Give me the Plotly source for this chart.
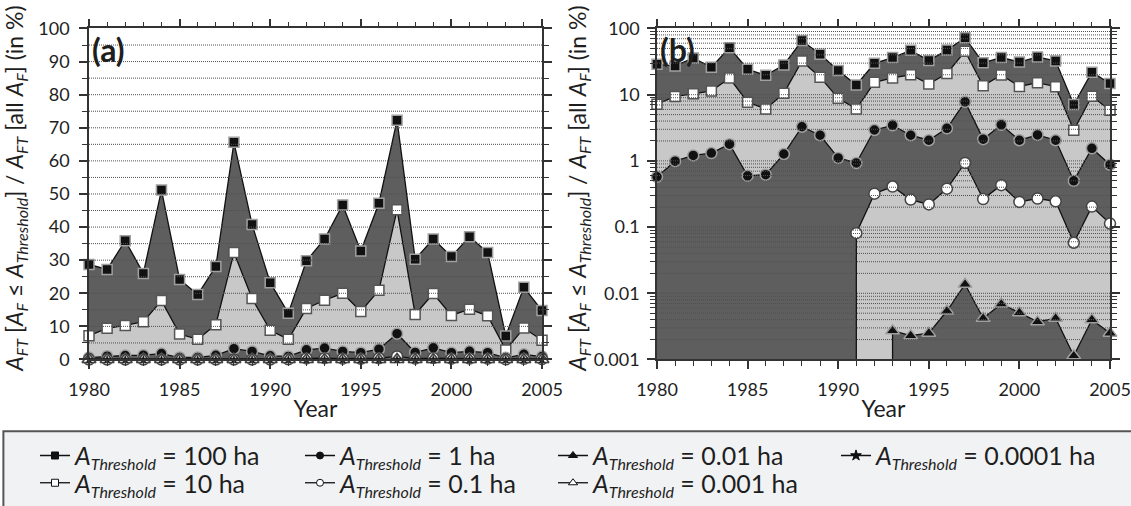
import plotly.graph_objects as go

years = list(range(1980, 2006))

# Share of fire-affected area (in %) for each threshold
thr_100 = [28.7, 27.2, 35.9, 26.0, 51.2, 24.2, 19.6, 28.1, 65.6, 40.8, 23.2, 14.0, 29.8,
           36.4, 46.7, 32.8, 47.2, 72.3, 30.3, 36.4, 31.1, 37.1, 32.3, 7.1, 21.8, 14.8]
thr_10 = [7.2, 9.4, 10.3, 11.4, 17.8, 7.7, 6.1, 10.5, 32.3, 18.4, 8.8, 6.1, 15.4,
          17.9, 20.0, 14.5, 20.9, 45.2, 13.6, 19.9, 13.3, 15.2, 13.2, 2.9, 9.5, 5.8]
thr_1 = [0.575, 0.99, 1.21, 1.31, 1.79, 0.594, 0.62, 1.27, 3.28, 2.44, 1.11, 0.93, 2.93,
         3.44, 2.44, 2.05, 3.1, 7.8, 2.13, 3.51, 2.05, 2.47, 2.05, 0.50, 1.55, 0.875]
thr_01 = [0, 0, 0, 0, 0, 0, 0, 0, 0, 0, 0, 0.081, 0.32,
          0.41, 0.26, 0.22, 0.38, 0.93, 0.265, 0.43, 0.24, 0.27, 0.245, 0.058, 0.204, 0.113]
thr_001 = [0, 0, 0, 0, 0, 0, 0, 0, 0, 0, 0, 0, 0,
           0.00272, 0.00229, 0.0025, 0.0054, 0.0137, 0.0042, 0.0069, 0.0051, 0.0037, 0.0042,
           0.00114, 0.0040, 0.0025]
thr_0001 = [0, 0, 0, 0, 0, 0, 0, 0, 0, 0, 0, 0, 0,
            0, 0, 0, 0, 0, 0, 0, 0, 0, 0, 0, 0, 0]
thr_00001 = [0, 0, 0, 0, 0, 0, 0, 0, 0, 0, 0, 0, 0,
             0, 0, 0, 0, 0, 0, 0, 0, 0, 0, 0, 0, 0]

series_labels = ["100 ha", "10 ha", "1 ha", "0.1 ha", "0.01 ha", "0.001 ha", "0.0001 ha"]
series_values = [thr_100, thr_10, thr_1, thr_01, thr_001, thr_0001, thr_00001]

lin_ticks = [0, 10, 20, 30, 40, 50, 60, 70, 80, 90, 100]
log_ticks = [0.001, 0.01, 0.1, 1, 10, 100]
log_ticktext = ["0.001", "0.01", "0.1", "1", "10", "100"]
year_ticks = [1980, 1985, 1990, 1995, 2000, 2005]

DARK = "#5e5e5e"
LIGHT = "#c8c8c8"
FONT = "Lato"
INK = "#1e1e1e"

fill_colors = [DARK, LIGHT, DARK, LIGHT, DARK, LIGHT, DARK]
symbols = ["square", "square", "circle", "circle", "triangle-up", "triangle-up", "star"]
face = ["#111111", "#ffffff", "#111111", "#ffffff", "#111111", "#ffffff", "#111111"]
edge = ["#a0a0a0", "#555555", "#a0a0a0", "#444444", "#a0a0a0", "#444444", "#111111"]
sizes = [10, 10, 11, 11, 12, 12, 6]
legend_sizes = [7, 7, 7, 7, 8, 8, 8]

# key layout: one legend box per entry (column x of the symbol, row centre y), in pixels
legend_ids = ["legend", "legend2", "legend3", "legend4", "legend5", "legend6", "legend7"]
legend_px = [(35, 464), (35, 492), (300, 464), (300, 492), (553, 464), (553, 492),
             (836, 464)]


def label(text):
    return ("<i>A</i><sub><span style='font-size:16px'><i>Threshold</i></span></sub> = "
            + text)


fig = go.Figure()

for panel, (xa, ya) in enumerate([("x", "y"), ("x2", "y2")]):
    # stacked filled areas (drawn from the top series downwards)
    for vals, fc in zip(series_values, fill_colors):
        fig.add_trace(go.Scatter(x=years, y=vals, xaxis=xa, yaxis=ya, mode="none",
                                 fill="tozeroy", fillcolor=fc, showlegend=False,
                                 hoverinfo="skip"))
    # lines + markers
    for i, vals in enumerate(series_values):
        fig.add_trace(go.Scatter(
            x=years, y=vals, xaxis=xa, yaxis=ya, mode="lines+markers",
            line=dict(color="#111111", width=1.3),
            marker=dict(symbol=symbols[i], color=face[i], size=sizes[i],
                        line=dict(color=edge[i], width=1.5 if i < 6 else 0.5)),
            name=label(series_labels[i]), showlegend=False, cliponaxis=False))

# legend entries (small symbols as in the reference key)
for i in range(len(series_labels)):
    fig.add_trace(go.Scatter(
        x=[None], y=[None], mode="lines+markers",
        line=dict(color="#111111", width=1.3),
        marker=dict(symbol=symbols[i], color=face[i], size=legend_sizes[i],
                    line=dict(color="#111111", width=1)),
        name=label(series_labels[i]), legend=legend_ids[i], showlegend=True))

# dotted grid lines drawn above everything
grid_line = dict(color="#505050", width=1, dash="1px,1px")
shapes = []
for v in range(5, 100, 5):
    shapes.append(dict(type="line", xref="x domain", yref="y", x0=0, x1=1, y0=v, y1=v,
                       layer="above", line=grid_line))
log_minor = []
for d in [0.001, 0.01, 0.1, 1, 10]:
    for m in range(1, 10):
        v = round(m * d, 6)
        if v > 0.001:
            log_minor.append(v)
for v in log_minor:
    shapes.append(dict(type="line", xref="x2 domain", yref="y2", x0=0, x1=1, y0=v, y1=v,
                       layer="above", line=grid_line))
# legend frame
shapes.append(dict(type="rect", xref="paper", yref="paper", x0=0.003, x1=1.01,
                   y0=-0.05, y1=1 - 439 / 506, layer="below",
                   fillcolor="#f1f2f4", line=dict(color="#555555", width=2)))

ytitle = ("&nbsp;&nbsp;<i>A</i><sub><i>FT</i></sub> [<i>A</i><sub><i>F</i></sub> ≤ "
          "<i>A</i><sub><i>Threshold</i></sub>] / <i>A</i><sub><i>FT</i></sub> "
          "[all <i>A</i><sub><i>F</i></sub>] (in %)")

axis_common = dict(showline=True, linecolor="#333333", linewidth=1.5, mirror="ticks",
                   ticks="outside", tickcolor="#333333", tickwidth=1.5, ticklen=8,
                   showgrid=False, zeroline=False, automargin=False,
                   tickfont=dict(family=FONT, size=18, color=INK))
minor_common = dict(ticks="outside", ticklen=5, tickwidth=1, tickcolor="#333333",
                    showgrid=False)

ydom = [1 - 366 / 506, 1 - 29 / 506]
fig.update_layout(
    width=1131, height=506, margin=dict(l=0, r=0, t=0, b=0),
    paper_bgcolor="white", plot_bgcolor="white",
    font=dict(family=FONT, color=INK),
    shapes=shapes,
    xaxis=dict(domain=[89 / 1131, 542 / 1131], range=[1980, 2005], tickvals=year_ticks,
               minor=dict(dtick=1, tick0=1980, **minor_common), ticklabelstandoff=5,
               title=dict(text="Year", font=dict(family=FONT, size=23), standoff=2),
               anchor="y", **axis_common),
    yaxis=dict(domain=ydom, range=[0, 100], tickvals=lin_ticks,
               minor=dict(dtick=5, tick0=0, **minor_common), ticklabelstandoff=6,
               title=dict(text=ytitle, font=dict(family=FONT, size=23), standoff=20),
               anchor="x", **axis_common),
    xaxis2=dict(domain=[657 / 1131, 1110 / 1131], range=[1980, 2005], tickvals=year_ticks,
                minor=dict(dtick=1, tick0=1980, **minor_common), ticklabelstandoff=5,
                title=dict(text="Year", font=dict(family=FONT, size=23), standoff=2),
                anchor="y2", **axis_common),
    yaxis2=dict(domain=ydom, type="log", range=[-3, 2], tickvals=log_ticks,
                ticktext=log_ticktext, ticklabelstandoff=4,
                minor=dict(tickmode="array", tickvals=log_minor, **minor_common),
                title=dict(text=ytitle, font=dict(family=FONT, size=23), standoff=0),
                anchor="x2", **axis_common),
    annotations=[
        dict(text="<b>(a)</b>", xref="x domain", yref="y domain", x=0.003, y=1.0,
             xanchor="left", yanchor="top", showarrow=False,
             font=dict(family=FONT, size=32, color=INK)),
        dict(text="<b>(b)</b>", xref="x2 domain", yref="y2 domain", x=0.003, y=1.0,
             xanchor="left", yanchor="top", showarrow=False,
             font=dict(family=FONT, size=32, color=INK)),
    ],
)

leg_layout = {}
for lid, (px, py) in zip(legend_ids, legend_px):
    leg_layout[lid] = dict(orientation="v", bgcolor="rgba(0,0,0,0)", borderwidth=0,
                           font=dict(family=FONT, size=25, color=INK),
                           x=px / 1131, y=1 - py / 506, xanchor="left", yanchor="middle",
                           itemwidth=30, tracegroupgap=0)
fig.update_layout(**leg_layout)

fig.write_html("out.html", config={"displayModeBar": False},
               post_script="document.body.style.margin='0px';")
